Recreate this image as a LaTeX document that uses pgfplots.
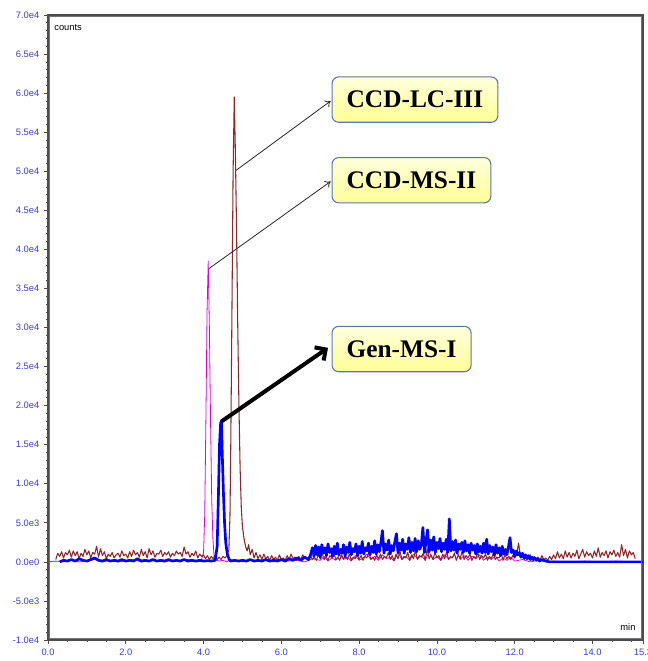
\documentclass[border=0pt]{standalone}
\usepackage{pgfplots}
\pgfplotsset{compat=1.18}
\usepackage{fontspec}
\setmainfont{Liberation Sans}
\newfontfamily\boxfont{Liberation Serif}
\usetikzlibrary{arrows.meta}
\definecolor{tickblue}{RGB}{60,60,210}
\definecolor{brownline}{RGB}{140,40,40}
\definecolor{magline}{RGB}{225,0,225}
\definecolor{blueline}{RGB}{0,0,255}
\definecolor{boxedge}{RGB}{90,120,160}
\tikzset{annbox/.style={draw=boxedge, line width=0.8pt, rounded corners=5pt,
  top color={rgb,255:red,255;green,255;blue,220}, bottom color={rgb,255:red,255;green,255;blue,150},
  minimum height=34pt, inner xsep=11pt, font=\boxfont\bfseries\fontsize{19}{22}\selectfont, anchor=west}}
\begin{document}
\begin{tikzpicture}
\begin{axis}[
  scale only axis, width=446.25pt, height=468.75pt,
  xmin=0, xmax=15.3, ymin=-10000, ymax=70000,
  axis line style={draw=black!70, line width=0.9pt},
  tick style={draw=black!70, line width=0.5pt},
  major tick length=3pt, minor tick length=1.8pt,
  tick align=outside, xtick pos=bottom, ytick pos=left,
  xtick={0,2,4,6,8,10,12,14,15.3},
  xticklabels={0.0,2.0,4.0,6.0,8.0,10.0,12.0,14.0,15.3},
  minor xtick={0.5,1,...,15},
  ytick={-10000,-5000,0,5000,10000,15000,20000,25000,30000,35000,40000,45000,50000,55000,60000,65000,70000},
  yticklabels={-1.0e4,-5.0e3,0.0e0,5.0e3,1.0e4,1.5e4,2.0e4,2.5e4,3.0e4,3.5e4,4.0e4,4.5e4,5.0e4,5.5e4,6.0e4,6.5e4,7.0e4},
  minor ytick={-9000,-8000,...,69000},
  ticklabel style={font=\fontsize{7}{8}\selectfont, text=tickblue},
  every axis plot/.append style={line join=round},
]
% CCD-MS-II (magenta)
\addplot[magline, line width=0.6pt] coordinates {
(0.00,0)(0.20,100)(0.40,0)(0.60,200)(0.80,0)(1.00,100)(1.20,300)(1.40,0)(1.60,200)(1.80,0)
(2.00,100)(2.20,300)(2.40,0)(2.60,200)(2.80,100)(3.00,0)(3.20,200)(3.40,100)(3.60,300)(3.80,100)
(3.90,200)(3.95,300)(4.00,1200)(4.03,6000)(4.06,18000)(4.09,32000)(4.12,38500)(4.15,30000)(4.18,18000)
(4.21,8000)(4.24,3000)(4.27,800)(4.30,300)(4.40,100)(4.50,200)(4.60,0)(4.70,300)(4.80,100)(4.90,200)
(5.00,0)(5.20,300)(5.40,100)(5.60,200)(5.80,0)(6.00,300)(6.20,100)(6.40,200)(6.60,0)(6.80,400)
(7.00,200)(7.10,700)(7.20,100)(7.30,500)(7.40,200)(7.50,900)(7.60,300)(7.70,600)(7.80,100)(7.90,800)
(8.00,200)(8.10,500)(8.20,1000)(8.30,300)(8.40,700)(8.50,200)(8.60,900)(8.70,400)(8.80,600)(8.90,100)
(9.00,1200)(9.10,300)(9.20,700)(9.30,200)(9.40,1000)(9.50,400)(9.60,800)(9.70,200)(9.80,1300)(9.90,300)
(10.00,700)(10.10,200)(10.20,900)(10.30,400)(10.40,600)(10.50,1500)(10.60,300)(10.70,800)(10.80,200)
(10.90,700)(11.00,400)(11.10,900)(11.20,200)(11.30,600)(11.40,300)(11.50,800)(11.60,100)(11.70,500)
(11.80,200)(11.90,600)(12.00,100)(12.20,300)(12.40,0)(12.60,200)(12.80,0)(13.00,100)(13.40,0)
(13.80,100)(14.20,0)(14.60,100)(15.00,0)(15.30,0)
};
% CCD-LC-III (brown)
\addplot[brownline, line width=0.8pt] coordinates {
(0.20,300)(0.25,1100)(0.30,700)(0.35,1300)(0.40,500)(0.45,1200)(0.50,900)(0.55,1500)(0.60,600)(0.65,1400)
(0.70,800)(0.75,1300)(0.80,400)(0.85,1100)(0.90,700)(0.95,1600)(1.00,900)(1.05,1400)(1.10,500)(1.15,1200)
(1.20,1000)(1.25,2000)(1.30,600)(1.35,1700)(1.40,800)(1.45,1300)(1.50,400)(1.55,1000)(1.60,700)(1.65,1200)
(1.70,500)(1.75,900)(1.80,1100)(1.85,600)(1.90,1400)(1.95,800)(2.00,1000)(2.05,500)(2.10,1300)(2.15,700)
(2.20,1500)(2.25,900)(2.30,1200)(2.35,600)(2.40,1600)(2.45,800)(2.50,1300)(2.55,500)(2.60,1700)(2.65,900)
(2.70,1400)(2.75,600)(2.80,1100)(2.85,1000)(2.90,1500)(2.95,700)(3.00,1200)(3.05,900)(3.10,1300)(3.15,600)
(3.20,1100)(3.25,800)(3.30,1400)(3.35,1000)(3.40,1200)(3.45,700)(3.50,1900)(3.55,1000)(3.60,1300)(3.65,600)
(3.70,1100)(3.75,800)(3.80,1400)(3.85,500)(3.90,1000)(3.95,700)(4.00,900)(4.05,400)(4.10,800)(4.15,300)
(4.20,700)(4.25,400)(4.30,900)(4.35,300)(4.40,600)(4.45,300)(4.50,700)(4.55,500)(4.60,800)
(4.65,1500)(4.68,6000)(4.70,15000)(4.73,32000)(4.76,50000)(4.79,59500)(4.82,52000)(4.85,42000)
(4.88,30000)(4.91,20000)(4.94,12000)(4.97,7000)(5.00,4500)(5.04,3000)(5.08,2000)
(5.12,1400)(5.16,2200)(5.20,900)(5.25,1600)(5.30,500)(5.35,1200)(5.40,400)(5.45,900)(5.50,300)(5.55,1000)
(5.60,400)(5.65,700)(5.70,200)(5.75,800)(5.80,300)(5.85,600)(5.90,200)(5.95,900)(6.00,300)(6.05,500)
(6.10,200)(6.15,800)(6.20,300)(6.25,1000)(6.30,400)(6.35,600)(6.40,200)(6.45,700)(6.50,300)(6.55,900)
(6.60,400)(6.65,500)(6.70,200)(6.75,800)(6.80,300)(6.85,600)(6.90,200)(6.95,900)(7.00,400)(7.05,1100)
(7.10,300)(7.15,700)(7.20,200)(7.25,800)(7.30,500)(7.35,1200)(7.40,300)(7.45,600)(7.50,200)(7.55,900)
(7.60,400)(7.65,700)(7.70,300)(7.75,1000)(7.80,200)(7.85,600)(7.90,400)(7.95,1100)(8.00,300)(8.05,800)
(8.10,200)(8.15,700)(8.20,500)(8.25,1300)(8.30,300)(8.35,600)(8.40,200)(8.45,900)(8.50,400)(8.55,1000)
(8.60,300)(8.65,700)(8.70,500)(8.75,1200)(8.80,300)(8.85,800)(8.90,200)(8.95,1000)(9.00,400)(9.05,1400)
(9.10,300)(9.15,700)(9.20,500)(9.25,1200)(9.30,200)(9.35,900)(9.40,400)(9.45,1500)(9.50,300)(9.55,800)
(9.60,600)(9.65,1100)(9.70,200)(9.75,1700)(9.80,400)(9.85,900)(9.90,300)(9.95,1200)(10.00,500)(10.05,800)
(10.10,200)(10.15,1000)(10.20,400)(10.25,1300)(10.30,300)(10.35,700)(10.40,500)(10.45,1100)(10.50,200)
(10.55,900)(10.60,400)(10.65,1400)(10.70,300)(10.75,800)(10.80,500)(10.85,1000)(10.90,200)(10.95,700)
(11.00,400)(11.05,1200)(11.10,300)(11.15,800)(11.20,500)(11.25,1000)(11.30,200)(11.35,700)(11.40,400)
(11.45,1100)(11.50,300)(11.55,600)(11.60,500)(11.65,1300)(11.70,200)(11.75,900)(11.80,400)(11.85,700)
(11.90,300)(11.95,800)(12.00,500)(12.05,900)(12.10,2400)(12.15,700)(12.20,1000)(12.25,300)(12.30,800)
(12.35,500)(12.40,900)(12.45,200)(12.50,700)(12.55,400)(12.60,600)(12.65,200)(12.70,800)(12.75,300)
(12.80,500)(12.85,200)(12.90,700)(12.95,300)(13.00,900)(13.05,400)(13.10,1300)(13.15,500)(13.20,1000)
(13.25,400)(13.30,1400)(13.35,600)(13.40,1200)(13.45,500)(13.50,1100)(13.55,700)(13.60,1500)(13.65,400)
(13.70,1000)(13.75,1600)(13.80,600)(13.85,1300)(13.90,800)(13.95,1100)(14.00,500)(14.05,1400)(14.10,700)
(14.15,1800)(14.20,600)(14.25,1200)(14.30,800)(14.35,1400)(14.40,500)(14.45,1300)(14.50,900)(14.55,1500)
(14.60,700)(14.65,1200)(14.70,600)(14.75,2200)(14.80,800)(14.85,1600)(14.90,500)(14.95,1400)(15.00,900)
(15.05,1200)(15.10,400)
};
% Gen-MS-I (blue)
\addplot[blueline, line width=2pt] coordinates {
(0.30,0)(0.40,200)(0.50,100)(0.60,300)(0.70,100)(0.80,400)(0.90,200)(1.00,100)(1.10,300)(1.20,500)
(1.30,200)(1.40,100)(1.50,300)(1.60,100)(1.70,200)(1.80,100)(1.90,300)(2.00,100)(2.10,200)(2.20,100)
(2.30,400)(2.40,100)(2.50,200)(2.60,100)(2.70,300)(2.80,100)(2.90,200)(3.00,100)(3.10,300)(3.20,100)
(3.30,200)(3.40,100)(3.50,300)(3.60,100)(3.70,200)(3.80,100)(3.90,200)(4.00,100)(4.10,150)(4.20,100)
(4.30,200)(4.35,2000)(4.38,8000)(4.41,15000)(4.44,17800)(4.46,18000)(4.48,14000)(4.51,9000)(4.54,5000)
(4.57,2500)(4.61,1000)(4.66,300)(4.70,100)(4.80,200)(4.90,100)(5.00,200)(5.10,100)(5.20,300)(5.30,100)
(5.40,200)(5.50,100)(5.60,300)(5.70,100)(5.80,200)(5.90,100)(6.00,300)(6.10,100)(6.20,400)(6.30,200)
(6.40,500)(6.50,200)(6.60,600)(6.70,300)(6.75,900)
(6.80,1800)(6.84,700)(6.88,2100)(6.92,900)(6.96,1900)(7.00,600)(7.04,2200)(7.08,1100)(7.12,1800)(7.16,800)
(7.20,2300)(7.24,1200)(7.28,1700)(7.32,700)(7.36,2000)(7.40,1000)(7.44,2400)(7.48,900)(7.52,1600)(7.56,1100)
(7.60,2200)(7.64,700)(7.68,1900)(7.72,1200)(7.76,2500)(7.80,900)(7.84,1700)(7.88,1300)(7.92,2300)(7.96,800)
(8.00,2000)(8.04,1100)(8.08,2600)(8.12,1000)(8.16,1800)(8.20,1400)(8.24,2400)(8.28,900)(8.32,2000)(8.36,1200)
(8.40,2700)(8.44,1000)(8.48,2200)(8.52,1300)(8.56,2500)(8.60,4000)(8.64,1100)(8.68,2300)(8.72,1500)(8.76,2800)
(8.80,1000)(8.84,2100)(8.88,1400)(8.92,2600)(8.96,3600)(9.00,1200)(9.04,2400)(9.08,1500)(9.12,2900)(9.16,1100)
(9.20,2300)(9.24,1600)(9.28,3100)(9.32,1200)(9.36,2500)(9.40,1400)(9.44,3000)(9.48,1300)(9.52,2700)(9.56,1600)
(9.60,2200)(9.64,4400)(9.68,1200)(9.72,2600)(9.76,4100)(9.80,1300)(9.84,2800)(9.88,1500)(9.92,3200)(9.96,1200)
(10.00,2500)(10.04,1700)(10.08,3000)(10.12,1300)(10.16,2400)(10.20,1600)(10.24,2900)(10.28,1200)(10.32,5500)
(10.36,1400)(10.40,2600)(10.44,1500)(10.48,2800)(10.52,1100)(10.56,2300)(10.60,1600)(10.64,2500)(10.68,1200)
(10.72,2700)(10.76,1400)(10.80,2200)(10.84,1100)(10.88,2400)(10.92,1500)(10.96,2100)(11.00,1000)(11.04,2300)
(11.08,1300)(11.12,2000)(11.16,1100)(11.20,2400)(11.24,1200)(11.28,2900)(11.32,1000)(11.36,2100)(11.40,1300)
(11.44,1900)(11.48,900)(11.52,2200)(11.56,1100)(11.60,1800)(11.64,800)(11.68,2000)(11.72,1000)(11.76,1600)
(11.80,900)(11.84,1900)(11.88,3100)(11.92,1200)(11.96,1500)(12.00,700)(12.04,1400)(12.08,900)(12.12,1200)
(12.16,600)(12.20,1100)(12.24,500)(12.28,900)(12.32,400)(12.36,800)(12.40,300)(12.44,600)(12.48,300)
(12.52,500)(12.56,200)(12.60,400)(12.64,100)(12.70,300)(12.80,100)(12.90,0)(13.00,0)(15.30,0)
};
\node[font=\fontsize{7}{8}\selectfont, anchor=north west, inner sep=1pt] at (rel axis cs:0.008,0.988) {counts};
\node[font=\fontsize{7}{8}\selectfont, anchor=south east, inner sep=1pt] at (rel axis cs:0.99,0.012) {min};
% annotations
\draw[black!85, line width=0.6pt, -{To[length=4pt,width=6pt]}] (axis cs:4.84,50130) -- (axis cs:7.27,59000);
\draw[black!85, line width=0.6pt, -{To[length=4pt,width=6pt]}] (axis cs:4.145,37560) -- (axis cs:7.27,48700);
\draw[black, line width=3pt, -{Straight Barb[length=6pt,width=12pt]}] (axis cs:4.454,17950) -- (axis cs:7.2,27400);
\node[annbox] at (axis cs:7.29,59170) {CCD-LC-III};
\node[annbox] at (axis cs:7.29,48850) {CCD-MS-II};
\node[annbox] at (axis cs:7.29,27240) {Gen-MS-I};
\end{axis}
\draw[black!55, line width=0.4pt] (1.3pt,1.3pt) rectangle (444.95pt,467.45pt);
\pgfresetboundingbox
\path[use as bounding box] (-36pt,-15.75pt) rectangle (450pt,480pt);
\end{tikzpicture}
\end{document}
